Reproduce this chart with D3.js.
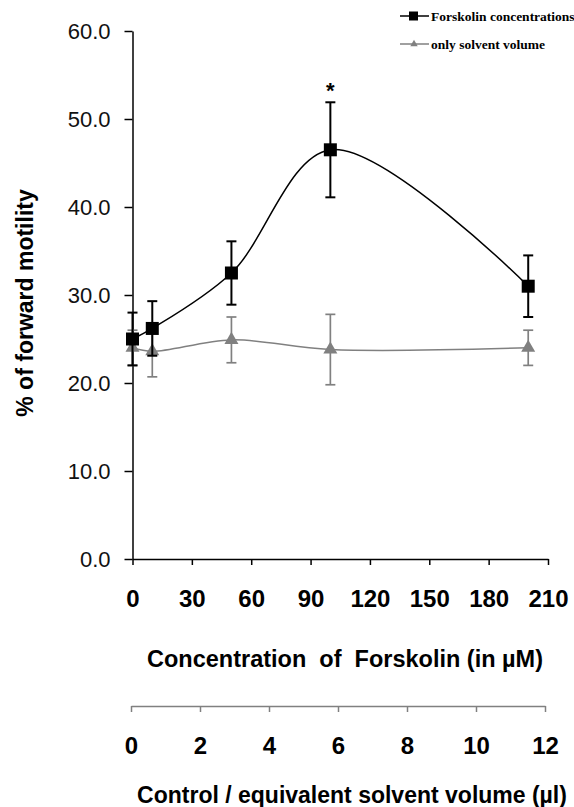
<!DOCTYPE html>
<html>
<head>
<meta charset="utf-8">
<script src="https://cdn.jsdelivr.net/npm/d3@7"></script>
<style>
  html, body { margin: 0; padding: 0; background: #fff; overflow: hidden; }
  svg { display: block; }
</style>
</head>
<body>
<script>
// Forward motility vs. forskolin concentration and solvent-only controls
const concentrations = [0, 10, 50, 100, 200];          // µM forskolin
const forskolinMean  = [25.0, 26.2, 32.5, 46.5, 31.0];
const forskolinErr   = [3.0, 3.1, 3.6, 5.4, 3.5];
const solventMean    = [24.0, 23.6, 24.9, 23.8, 24.0];
const solventErr     = [2.0, 2.9, 2.6, 4.0, 2.0];
const yTicks  = [0, 10, 20, 30, 40, 50, 60];
const xTicks  = [0, 30, 60, 90, 120, 150, 180, 210];
const volTicks = [0, 2, 4, 6, 8, 10, 12];               // µl solvent
const significant = [100];

const W = 574, H = 807;
const svg = d3.select("body").append("svg").attr("width", W).attr("height", H);

const x = d3.scaleLinear().domain([0, 210]).range([132.5, 548]);
const y = d3.scaleLinear().domain([0, 60]).range([559, 31]);
const xVol = d3.scaleLinear().domain([0, 12]).range([131, 545]);

const sans = "'Liberation Sans', Arial, sans-serif";

// Y axis
const yAxis = svg.append("g").attr("transform", `translate(${x(0)},0)`)
  .call(d3.axisLeft(y).tickValues(yTicks).tickFormat(d3.format(".1f")).tickSize(8).tickSizeOuter(0));
yAxis.select(".domain").attr("stroke", "#000").attr("stroke-width", 1.5);
yAxis.selectAll(".tick line").attr("stroke", "#000").attr("stroke-width", 1.5);
yAxis.selectAll(".tick text").attr("font-family", sans).attr("font-size", 22)
  .attr("fill", "#111").attr("x", -22).attr("dy", "0.36em");

// X axis (forskolin concentration)
const xAxis = svg.append("g").attr("transform", `translate(0,${y(0)})`)
  .call(d3.axisBottom(x).tickValues(xTicks).tickSize(6).tickSizeOuter(0));
xAxis.select(".domain").attr("stroke", "#000").attr("stroke-width", 1.5);
xAxis.selectAll(".tick line").attr("stroke", "#000").attr("stroke-width", 1.5);
xAxis.selectAll(".tick text").attr("font-family", sans).attr("font-size", 24)
  .attr("font-weight", "bold").attr("fill", "#000").attr("y", 48).attr("dy", 0);

// Secondary axis (solvent volume)
const vAxis = svg.append("g").attr("transform", `translate(0,706)`)
  .call(d3.axisBottom(xVol).tickValues(volTicks).tickSize(6).tickSizeOuter(0));
vAxis.select(".domain").attr("stroke", "#808080").attr("stroke-width", 1.5);
vAxis.selectAll(".tick line").attr("stroke", "#808080").attr("stroke-width", 1.5);
vAxis.selectAll(".tick text").attr("font-family", sans).attr("font-size", 24)
  .attr("font-weight", "bold").attr("fill", "#000").attr("y", 48).attr("dy", 0);

// Axis titles
svg.append("text").attr("x", 345).attr("y", 667).attr("text-anchor", "middle")
  .attr("font-family", sans).attr("font-size", 23).attr("font-weight", "bold")
  .style("white-space", "pre").attr("textLength", 396).attr("lengthAdjust", "spacingAndGlyphs")
  .text("Concentration  of  Forskolin (in µM)");
svg.append("text").attr("x", 352).attr("y", 803).attr("text-anchor", "middle")
  .attr("font-family", sans).attr("font-size", 23).attr("font-weight", "bold")
  .text("Control / equivalent solvent volume (µl)");
svg.append("text").attr("transform", `translate(33,303) rotate(-90)`)
  .attr("text-anchor", "middle").attr("font-family", sans).attr("font-size", 23)
  .attr("font-weight", "bold").text("% of forward motility");

const line = d3.line().curve(d3.curveCatmullRom.alpha(0.5));

function drawSeries(means, errs, color, marker, errWidth) {
  const pts = concentrations.map((c, i) => [x(c), y(means[i])]);
  svg.append("path").attr("d", line(pts)).attr("fill", "none")
    .attr("stroke", color).attr("stroke-width", 1.5);
  const g = svg.append("g");
  concentrations.forEach((c, i) => {
    const cx = x(c), top = y(means[i] + errs[i]), bot = y(means[i] - errs[i]);
    g.append("line").attr("x1", cx).attr("x2", cx).attr("y1", top).attr("y2", bot)
      .attr("stroke", color).attr("stroke-width", errWidth);
    [top, bot].forEach(v => g.append("line").attr("x1", cx - 5).attr("x2", cx + 5)
      .attr("y1", v).attr("y2", v).attr("stroke", color).attr("stroke-width", errWidth));
  });
  concentrations.forEach((c, i) => {
    const cx = x(c), cy = y(means[i]);
    if (marker === "square") {
      g.append("rect").attr("x", cx - 6.5).attr("y", cy - 6.5).attr("width", 13).attr("height", 13)
        .attr("fill", color);
    } else {
      g.append("path").attr("d", d3.symbol(d3.symbolTriangle, 85)())
        .attr("transform", `translate(${cx},${cy})`).attr("fill", color);
    }
  });
}

drawSeries(solventMean, solventErr, "#808080", "triangle", 1.7);
drawSeries(forskolinMean, forskolinErr, "#000", "square", 2);

// Significance marker
significant.forEach(c => {
  const i = concentrations.indexOf(c);
  svg.append("text").attr("x", x(c)).attr("y", y(forskolinMean[i] + forskolinErr[i]) - 4)
    .attr("text-anchor", "middle").attr("font-family", sans).attr("font-size", 22)
    .attr("font-weight", "bold").text("*");
});

// Legend
const serif = "'Liberation Serif', 'Times New Roman', serif";
const legend = [
  { label: "Forskolin concentrations", color: "#000", marker: "square", y: 16 },
  { label: "only solvent volume", color: "#808080", marker: "triangle", y: 44 }
];
legend.forEach(l => {
  svg.append("line").attr("x1", 400).attr("x2", 429).attr("y1", l.y).attr("y2", l.y)
    .attr("stroke", l.color).attr("stroke-width", 1.5);
  if (l.marker === "square") {
    svg.append("rect").attr("x", 409).attr("y", l.y - 4.5).attr("width", 9).attr("height", 9).attr("fill", l.color);
  } else {
    svg.append("path").attr("d", d3.symbol(d3.symbolTriangle, 24)())
      .attr("transform", `translate(414,${l.y})`).attr("fill", l.color);
  }
  svg.append("text").attr("x", 431).attr("y", l.y + 4.5).attr("font-family", serif)
    .attr("font-size", 13.5).attr("font-weight", "bold").attr("fill", "#000").text(l.label);
});
</script>
</body>
</html>
